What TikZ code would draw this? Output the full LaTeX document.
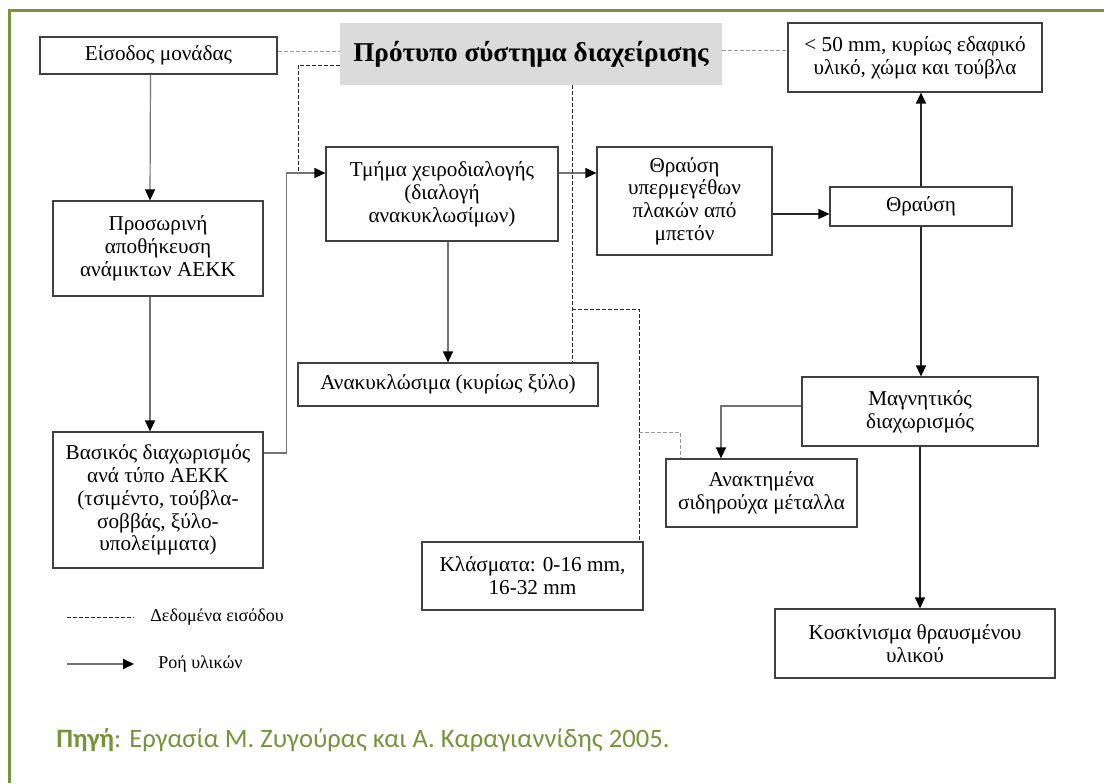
\documentclass[tikz,border=0pt]{standalone}
\usepackage{fontspec}
\setmainfont{Liberation Serif}
\newfontfamily\capfont{Carlito}
\usetikzlibrary{arrows.meta}
\tikzset{>={Triangle[width=5pt,length=5.5pt,color=black]}}
\definecolor{framegreen}{HTML}{77933C}
\definecolor{titlegray}{HTML}{DBDBDB}
\tikzset{
  box/.style={draw=black!75, line width=0.6pt, fill=white, align=center,
    inner sep=0pt, font=\fontsize{10.6}{11.4}\selectfont},
  flow/.style={->, draw=black!55, line width=0.6pt},
  flowdark/.style={->, draw=black!85, line width=0.7pt},
  info/.style={draw=black!85, dash pattern=on 2pt off 1pt, line width=0.5pt},
  infogray/.style={info, draw=black!40},
  legtext/.style={anchor=west, inner sep=0pt, font=\fontsize{9}{10.5}\selectfont},
}

\begin{document}
\begin{tikzpicture}[x=0.5pt,y=-0.5pt]
  \useasboundingbox (0,0) rectangle (1104,783);

  % frame
  \draw[framegreen, line width=1.5pt] (9,783) -- (9,10) -- (1104,10);

  \node[fill=titlegray, minimum width=191pt, minimum height=31pt,
    font=\bfseries\fontsize{13.6}{15}\selectfont] (title) at (531,54)
    {Πρότυπο σύστημα διαχείρισης};

  % boxes
  \node[box, minimum width=118.5pt, minimum height=18.5pt] (entry) at (158.5,55.5)
    {Είσοδος μονάδας};
  \node[box, minimum width=127pt, minimum height=34.5pt] (coarse) at (915,57.5)
    {< 50 mm, κυρίως εδαφικό\\υλικό, χώμα και τούβλα};
  \node[box, minimum width=105pt, minimum height=47.5pt] (store) at (158,248.5)
    {Προσωρινή\\αποθήκευση\\ανάμικτων ΑΕΚΚ};
  \node[box, minimum width=116pt, minimum height=47pt] (handsort) at (442,194)
    {Τμήμα χειροδιαλογής\\(διαλογή\\ανακυκλωσίμων)};
  \node[box, minimum width=87.5pt, minimum height=54pt] (oversize) at (684.5,201)
    {Θραύση\\υπερμεγέθων\\πλακών από\\μπετόν};
  \node[box, minimum width=91pt, minimum height=19.5pt] (crush) at (921,206.5)
    {Θραύση};
  \node[box, minimum width=150pt, minimum height=21.5pt] (recycl) at (448,384.5)
    {Ανακυκλώσιμα (κυρίως ξύλο)};
  \node[box, minimum width=118pt, minimum height=34.5pt] (magnet) at (920,411.5)
    {Μαγνητικός\\διαχωρισμός};
  \node[box, minimum width=105pt, minimum height=68pt] (basic) at (158,500)
    {Βασικός διαχωρισμός\\ανά τύπο ΑΕΚΚ\\(τσιμέντο, τούβλα-\\σοββάς, ξύλο-\\υπολείμματα)};
  \node[box, minimum width=95.5pt, minimum height=34pt] (metals) at (761.5,493)
    {Ανακτημένα\\σιδηρούχα μέταλλα};
  \node[box, minimum width=110.5pt, minimum height=34pt] (fract) at (532.5,576)
    {Κλάσματα: 0-16 mm,\\16-32 mm};
  \node[box, minimum width=140pt, minimum height=34.5pt] (screen) at (915,643.5)
    {Κοσκίνισμα θραυσμένου\\υλικού};

  % junctions
  \coordinate (j1) at (298,173);
  \coordinate (j2) at (772,214);
  \coordinate (j3) at (721,406);
  \coordinate (d1) at (572,309);
  \coordinate (d2) at (639,432);

  % material flow
  \draw[flow] ([xshift=-4pt]entry.south) -- ([xshift=-4pt]store.north);
  \draw[flow] ([xshift=-4pt]store.south) -- ([xshift=-4pt]basic.north);
  \draw[flow] ([yshift=23.5pt]basic.east) -- ++(11.5pt,0) |- (handsort.west |- j1);
  \draw[flow] (handsort.east |- j1) -- (oversize.west |- j1);
  \draw[flow] (handsort.south -| recycl.north) -- (recycl.north);
  \draw[flowdark] (oversize.east |- j2) -- (crush.west |- j2);
  \draw[flowdark] (crush.north) -- (crush.north |- coarse.south);
  \draw[flowdark] (crush.south) -- (crush.south |- magnet.north);
  \draw[flow] (magnet.west |- j3) -| (metals.north -| j3);
  \draw[flowdark] (magnet.south) -- (magnet.south |- screen.north);

  % input data
  \draw[infogray] ([yshift=2.25pt]entry.east) -- ([yshift=1.5pt]title.west);
  \draw[infogray] ([yshift=2pt]title.east) -- ([yshift=3.75pt]coarse.west);
  \draw[info] ([yshift=-5.5pt]title.west) -| (j1);
  \draw[info] (title.south -| d1) -- (recycl.north -| d1);
  \draw[info] (d1) -| (fract.north -| d2);
  \draw[infogray] (d2) -| ([xshift=-40.75pt]metals.north);

  % legend
  \node[legtext] (leginfo) at (150,617) {Δεδομένα εισόδου};
  \node[legtext] (legflow) at (158,664) {Ροή υλικών};
  \coordinate (l1) at (67,617);
  \coordinate (l2) at (67,664);
  \draw[info] (l1) -- ++(33.5pt,0);
  \draw[flow, line width=1pt] (l2) -- ++(33.5pt,0);

  \node[anchor=west, inner sep=0pt, text=framegreen,
    font=\capfont\fontsize{13.3}{15}\selectfont] (source) at (56,740)
    {\textbf{Πηγή}: Εργασία Μ. Ζυγούρας και Α. Καραγιαννίδης 2005.};
\end{tikzpicture}
\end{document}
